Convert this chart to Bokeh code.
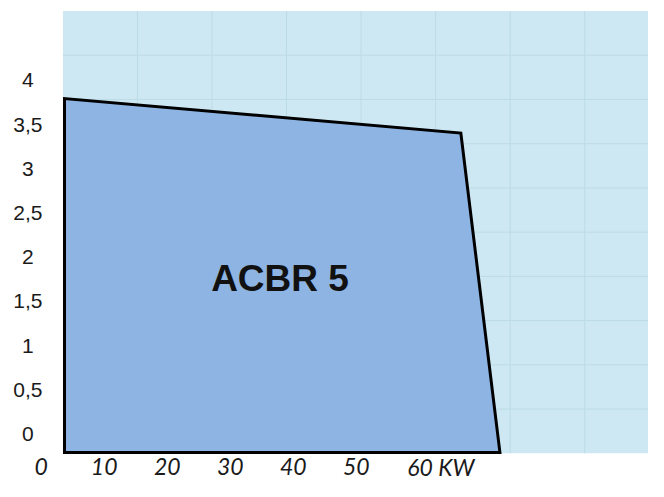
import numpy as np
from bokeh.plotting import figure
from bokeh.models import Range1d
from bokeh.core.properties import value
from bokeh.embed import file_html
from bokeh.resources import INLINE

# ---- data ----
kw = [3.7, 3.7, 66.6, 72.8]            # power, KW (polygon corners)
pressure = [-0.24, 3.76, 3.37, -0.24]  # y value of the corners
x_ticks = [0, 10, 20, 30, 40, 50]
x_tick_labels = ["0", "10", "20", "30", "40", "50"]
x_unit_tick = [60]
x_unit_label = ["60 KW"]
y_ticks = [0, 0.5, 1, 1.5, 2, 2.5, 3, 3.5, 4]
y_tick_labels = ["0", "0,5", "1", "1,5", "2", "2,5", "3", "3,5", "4"]
series_name = ["ACBR 5"]

# ---- layout (not data) ----
X0, X1 = -6.458, 96.38
Y0, Y1 = -0.569, 4.869
AREA_L, AREA_B, AREA_T = 3.45, -0.25, 4.75
GRID_DX = 11.83
XLAB_Y = -0.405
YLAB_X = -2.12

p = figure(width=648, height=481, x_range=Range1d(X0, X1), y_range=Range1d(Y0, Y1),
           x_axis_location=None, y_axis_location=None, toolbar_location=None,
           output_backend="svg", min_border=0, outline_line_color=None,
           background_fill_color="white", border_fill_color="white")
p.xgrid.grid_line_color = None
p.ygrid.grid_line_color = None

# light blue plotting area
p.quad(left=[AREA_L], right=[X1], bottom=[AREA_B], top=[AREA_T],
       fill_color="#CDE8F2", line_color=None)

# faint grid
gx = [AREA_L + GRID_DX * k for k in range(1, 9) if AREA_L + GRID_DX * k < X1]
p.segment(x0=gx, x1=gx, y0=[AREA_B] * len(gx), y1=[AREA_T] * len(gx),
          line_color="#BCDBE6", line_width=1)
gy = [0.25 + 0.5 * k for k in range(9)]
p.segment(x0=[AREA_L] * len(gy), x1=[X1] * len(gy), y0=gy, y1=gy,
          line_color="#BCDBE6", line_width=1)

# operating field
p.patch(kw, pressure, fill_color="#8DB4E2", line_color="black", line_width=3,
        line_join="miter")

p.text(x=[37.9], y=[1.73], text=series_name, text_font=value("Liberation Sans"),
       text_font_style="bold", text_font_size="37px", text_align="center",
       text_baseline="middle", text_color="#111111")

# tick labels
p.text(x=[YLAB_X] * len(y_ticks), y=y_ticks, text=y_tick_labels,
       text_font=value("Liberation Sans"), text_font_size="21px",
       text_align="center", text_baseline="middle", text_color="#1a1a1a", y_offset=3)
p.text(x=x_ticks, y=[XLAB_Y] * len(x_ticks), text=x_tick_labels,
       text_font=value("Lato"), text_font_style="italic", text_font_size="23px",
       text_align="center", text_baseline="middle", text_color="#1a1a1a")
p.text(x=x_unit_tick, y=[XLAB_Y], text=x_unit_label,
       text_font=value("Lato"), text_font_style="italic", text_font_size="23px",
       text_align="left", text_baseline="middle", text_color="#1a1a1a", x_offset=-12)

open("out.html", "w").write(file_html(p, INLINE))
